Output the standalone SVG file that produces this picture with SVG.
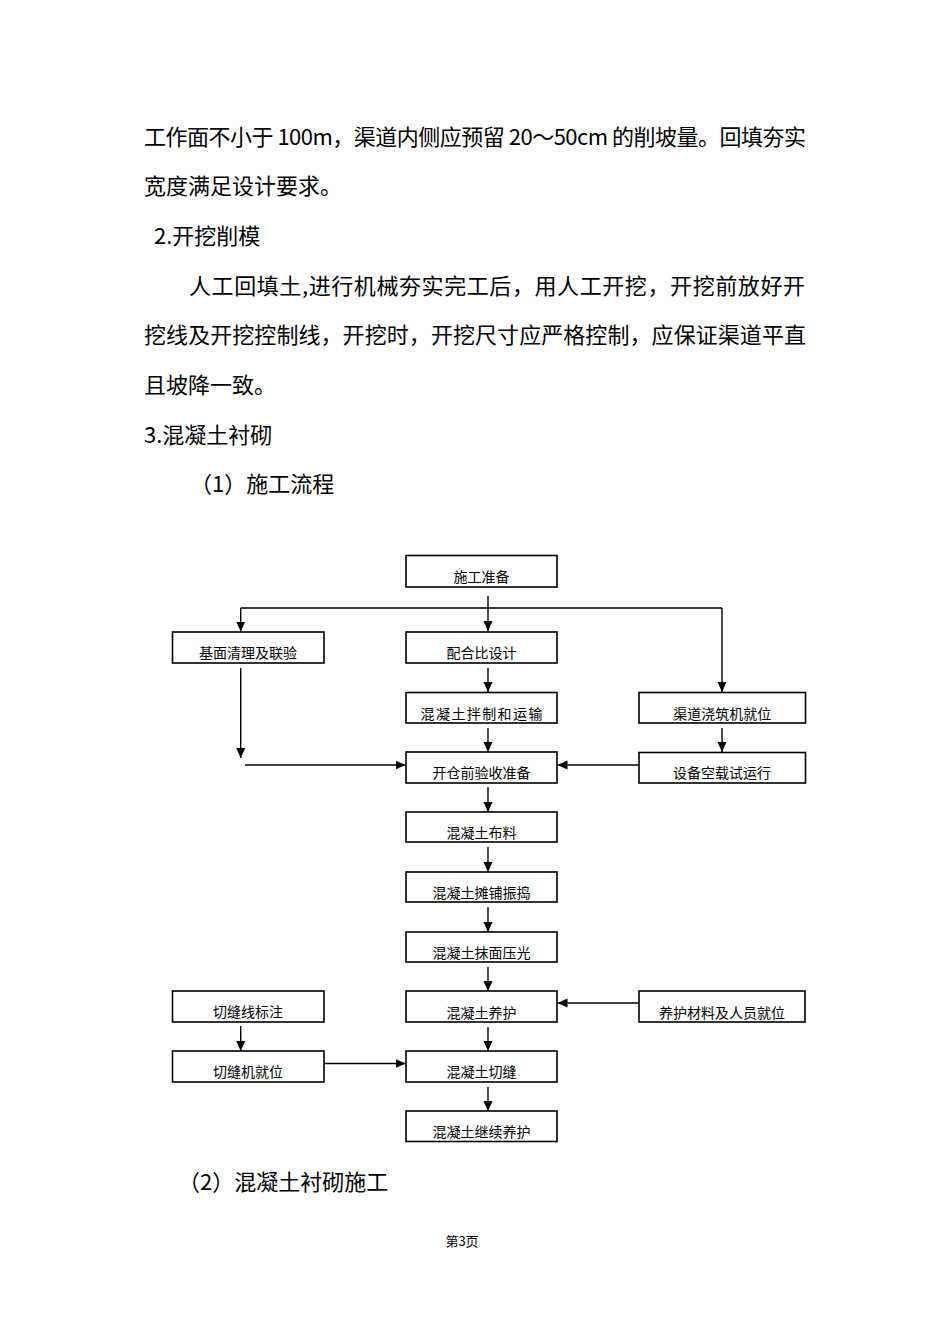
<svg xmlns="http://www.w3.org/2000/svg" width="950" height="1344" viewBox="0 0 950 1344">
<style>
.body{font-family:"Noto Sans CJK SC","Liberation Serif",serif;font-size:22px;fill:#000}
.lbl{font-family:"Noto Sans CJK SC","Liberation Sans",sans-serif;font-size:14px;fill:#000;text-anchor:middle}
.box{fill:#fff;stroke:#000;stroke-width:1.6}
.ln{fill:none;stroke:#000;stroke-width:1.4}
.foot{font-family:"Noto Sans CJK SC","Liberation Sans",sans-serif;font-size:13px;fill:#000;text-anchor:middle}
</style>
<defs>
<marker id="ah" markerUnits="userSpaceOnUse" markerWidth="10" markerHeight="10" viewBox="0 0 10 10" refX="10" refY="5" orient="auto">
<path d="M0,0.5 L10,5 L0,9.5 Z" fill="#000"/>
</marker>
</defs>
<rect width="950" height="1344" fill="#fff"/>

<g id="body-text">
<text class="body" x="144" y="144.5" textLength="662" lengthAdjust="spacing">工作面不小于 100m，渠道内侧应预留 20～50cm 的削坡量。回填夯实</text>
<text class="body" x="144" y="194.2">宽度满足设计要求。</text>
<text class="body" x="154" y="243.9">2.开挖削模</text>
<text class="body" x="189" y="293.6" textLength="616" lengthAdjust="spacing">人工回填土,进行机械夯实完工后，用人工开挖，开挖前放好开</text>
<text class="body" x="144" y="343.3" textLength="662" lengthAdjust="spacing">挖线及开挖控制线，开挖时，开挖尺寸应严格控制，应保证渠道平直</text>
<text class="body" x="144" y="393">且坡降一致。</text>
<text class="body" x="144" y="442.7">3.混凝土衬砌</text>
<text class="body" x="190" y="492.4">（1）施工流程</text>
<text class="body" x="178" y="1189.5">（2）混凝土衬砌施工</text>
<text class="foot" x="462" y="1246">第3页</text>
</g>

<g id="connectors">
<path class="ln" d="M488,596 V631" marker-end="url(#ah)"/>
<path class="ln" d="M240.7,608 H722"/>
<path class="ln" d="M240.7,608 V631.5" marker-end="url(#ah)"/>
<path class="ln" d="M722,608 V692" marker-end="url(#ah)"/>
<path class="ln" d="M488,668 V692" marker-end="url(#ah)"/>
<path class="ln" d="M488,728 V752" marker-end="url(#ah)"/>
<path class="ln" d="M240.7,668 V758" marker-end="url(#ah)"/>
<path class="ln" d="M245,765 H405.5" marker-end="url(#ah)"/>
<path class="ln" d="M638.5,765 H557.5" marker-end="url(#ah)"/>
<path class="ln" d="M722,728 V752" marker-end="url(#ah)"/>
<path class="ln" d="M488,787 V812" marker-end="url(#ah)"/>
<path class="ln" d="M488,847 V872" marker-end="url(#ah)"/>
<path class="ln" d="M488,907 V932" marker-end="url(#ah)"/>
<path class="ln" d="M488,967 V991" marker-end="url(#ah)"/>
<path class="ln" d="M488,1027 V1051" marker-end="url(#ah)"/>
<path class="ln" d="M488,1087 V1111" marker-end="url(#ah)"/>
<path class="ln" d="M240.7,1026 V1051" marker-end="url(#ah)"/>
<path class="ln" d="M324,1063.5 H405.5" marker-end="url(#ah)"/>
<path class="ln" d="M639,1003 H557.5" marker-end="url(#ah)"/>
</g>

<g id="n-prep"><rect class="box" x="406" y="555.5" width="151" height="31.5"/><text class="lbl" x="481.5" y="581.5">施工准备</text></g>
<g id="n-base"><rect class="box" x="172.5" y="632" width="151.5" height="31"/><text class="lbl" x="248" y="658">基面清理及联验</text></g>
<g id="n-mix"><rect class="box" x="406" y="632" width="151" height="31"/><text class="lbl" x="481.5" y="658">配合比设计</text></g>
<g id="n-transport"><rect class="box" x="406" y="692.5" width="151" height="30.5"/><text class="lbl" x="482.2" y="718.5" style="letter-spacing:1.4px">混凝土拌制和运输</text></g>
<g id="n-machine"><rect class="box" x="639" y="692.5" width="166.5" height="30.5"/><text class="lbl" x="722.3" y="718.5">渠道浇筑机就位</text></g>
<g id="n-accept"><rect class="box" x="406" y="752" width="151" height="31"/><text class="lbl" x="481.5" y="778">开仓前验收准备</text></g>
<g id="n-trial"><rect class="box" x="639" y="752.5" width="166.5" height="30.5"/><text class="lbl" x="722" y="778">设备空载试运行</text></g>
<g id="n-lay"><rect class="box" x="406" y="812" width="151" height="30"/><text class="lbl" x="481.5" y="838">混凝土布料</text></g>
<g id="n-vibrate"><rect class="box" x="406" y="872" width="151" height="30"/><text class="lbl" x="481.5" y="898">混凝土摊铺振捣</text></g>
<g id="n-trowel"><rect class="box" x="406" y="932" width="151" height="30"/><text class="lbl" x="481.5" y="958">混凝土抹面压光</text></g>
<g id="n-mark"><rect class="box" x="172.5" y="991" width="151.5" height="31"/><text class="lbl" x="248" y="1016.5">切缝线标注</text></g>
<g id="n-cure"><rect class="box" x="406" y="991" width="151" height="31"/><text class="lbl" x="481.5" y="1017.5">混凝土养护</text></g>
<g id="n-material"><rect class="box" x="639" y="991" width="166" height="31"/><text class="lbl" x="722" y="1017.5">养护材料及人员就位</text></g>
<g id="n-cutter"><rect class="box" x="172.5" y="1051" width="151.5" height="31"/><text class="lbl" x="248" y="1077">切缝机就位</text></g>
<g id="n-cut"><rect class="box" x="406" y="1051" width="151" height="31"/><text class="lbl" x="481.5" y="1077">混凝土切缝</text></g>
<g id="n-cure2"><rect class="box" x="406" y="1111" width="151" height="30.5"/><text class="lbl" x="481.5" y="1137">混凝土继续养护</text></g>
</svg>
